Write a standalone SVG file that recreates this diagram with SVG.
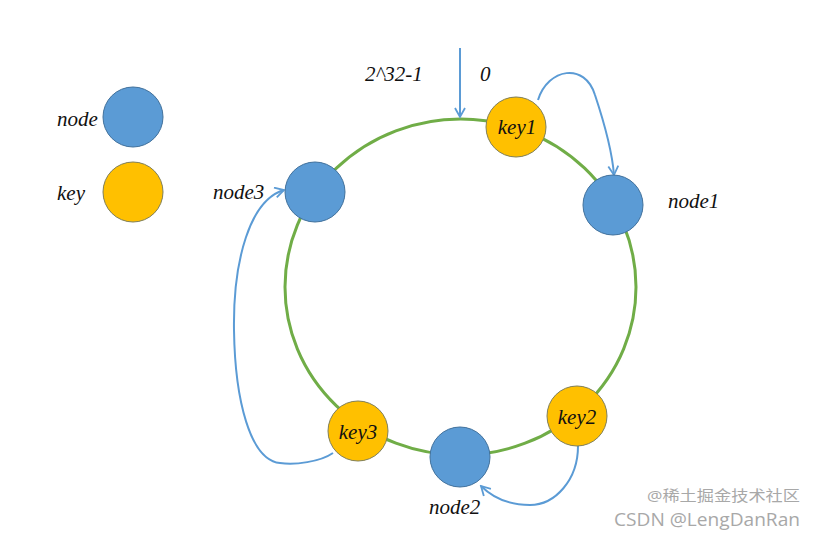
<svg xmlns="http://www.w3.org/2000/svg" width="815" height="539" viewBox="0 0 815 539">
<defs>
<style>
.node{fill:#5B9BD5;stroke:#41719C;stroke-width:1}
.key{fill:#FFC000;stroke:#7F7F5A;stroke-width:1}
.lbl{font-family:"Liberation Serif",serif;font-style:italic;font-size:21px;fill:#111}
.arr{fill:none;stroke:#5B9BD5;stroke-width:2;marker-end:url(#ah)}
.wm{font-family:"Open Sans","Noto Sans CJK SC",sans-serif;fill:#a8a8a8}
</style>
<marker id="ah" viewBox="0 0 12 12" refX="10" refY="6" markerWidth="12" markerHeight="12" markerUnits="userSpaceOnUse" orient="auto">
<path d="M1,1 L10,6 L1,11" fill="none" stroke="#5B9BD5" stroke-width="1.8"/>
</marker>
</defs>
<rect width="815" height="539" fill="#fff"/>
<ellipse cx="460.5" cy="287" rx="175.5" ry="168" fill="none" stroke="#70AD47" stroke-width="3"/>
<g id="connectors">
<path class="arr" d="M460,48 L460,117"/>
<path class="arr" d="M538,100 C548,68 585,62 595,95 C605,125 612,150 614,175"/>
<path class="arr" d="M333,453 C320,462 295,465 280,463 C250,460 235,400 234,330 C233,260 250,200 284,190"/>
<path class="arr" d="M578,446 C578,480 555,505 530,505 C505,505 490,495 481,486"/>
</g>
<g id="legend-node"><circle class="node" cx="133" cy="117" r="30"/><text class="lbl" x="57" y="126">node</text></g>
<g id="legend-key"><circle class="key" cx="133" cy="192" r="30"/><text class="lbl" x="57" y="200">key</text></g>
<g id="key1"><circle class="key" cx="516" cy="127" r="30"/><text class="lbl" x="517" y="134" text-anchor="middle">key1</text></g>
<g id="node1"><circle class="node" cx="613" cy="205" r="30"/><text class="lbl" x="668" y="208">node1</text></g>
<g id="node3"><circle class="node" cx="315" cy="192" r="30"/><text class="lbl" x="213" y="199">node3</text></g>
<g id="key3"><circle class="key" cx="358" cy="431" r="30"/><text class="lbl" x="358" y="439" text-anchor="middle">key3</text></g>
<g id="node2"><circle class="node" cx="460" cy="457" r="30"/><text class="lbl" x="429" y="514">node2</text></g>
<g id="key2"><circle class="key" cx="577" cy="416" r="30"/><text class="lbl" x="577" y="424" text-anchor="middle">key2</text></g>
<text class="lbl" x="365" y="81">2^32-1</text>
<text class="lbl" x="480" y="81">0</text>
<text class="wm" x="647" y="501" font-size="15" textLength="153" lengthAdjust="spacingAndGlyphs">@稀土掘金技术社区</text>
<text class="wm" x="614" y="526" font-size="18" textLength="186" lengthAdjust="spacingAndGlyphs">CSDN @LengDanRan</text>
</svg>
